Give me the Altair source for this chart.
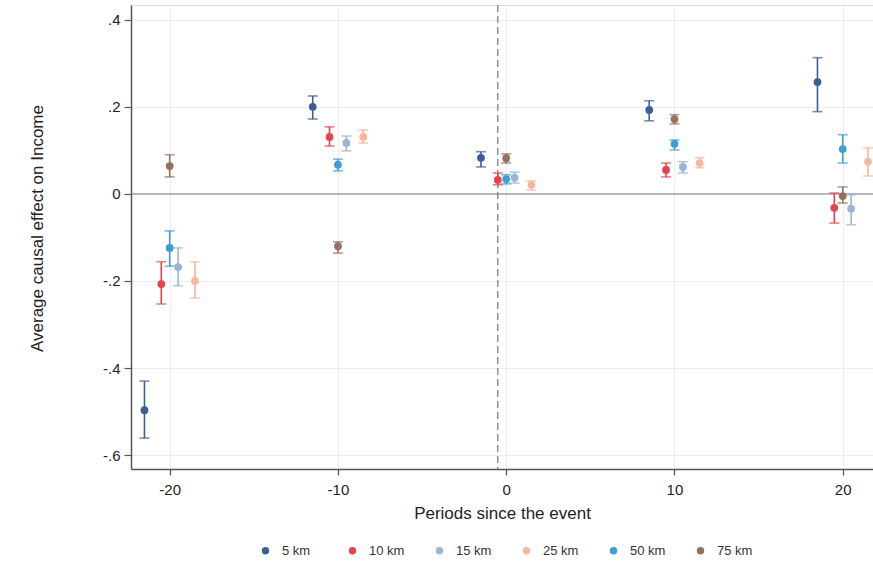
import altair as alt
import pandas as pd

periods = [-20, -10, 0, 10, 20]
series = ["5 km", "10 km", "15 km", "25 km", "50 km", "75 km"]
offsets = [-1.5, -0.5, 0.5, 1.5, 0.0, 0.0]
colors = ["#3b5f94", "#e7434e", "#9ab4d6", "#f6b6a0", "#3b9fd2", "#94705e"]

est_5 = [-0.497, 0.200, 0.083, 0.193, 0.257]
lo_5 = [-0.561, 0.172, 0.062, 0.168, 0.189]
hi_5 = [-0.430, 0.225, 0.097, 0.214, 0.313]

est_10 = [-0.207, 0.131, 0.032, 0.055, -0.032]
lo_10 = [-0.253, 0.110, 0.021, 0.039, -0.067]
hi_10 = [-0.156, 0.154, 0.048, 0.071, 0.002]

est_15 = [-0.168, 0.117, 0.037, 0.062, -0.034]
lo_15 = [-0.211, 0.099, 0.025, 0.048, -0.071]
hi_15 = [-0.124, 0.133, 0.050, 0.074, -0.002]

est_25 = [-0.200, 0.131, 0.021, 0.071, 0.074]
lo_25 = [-0.239, 0.117, 0.009, 0.060, 0.041]
hi_25 = [-0.156, 0.147, 0.030, 0.083, 0.106]

est_50 = [-0.124, 0.067, 0.034, 0.115, 0.103]
lo_50 = [-0.166, 0.053, 0.023, 0.101, 0.071]
hi_50 = [-0.085, 0.080, 0.044, 0.124, 0.136]

est_75 = [0.064, -0.120, 0.082, 0.172, -0.005]
lo_75 = [0.039, -0.136, 0.071, 0.161, -0.021]
hi_75 = [0.090, -0.110, 0.092, 0.182, 0.016]

ests = [est_5, est_10, est_15, est_25, est_50, est_75]
los = [lo_5, lo_10, lo_15, lo_25, lo_50, lo_75]
his = [hi_5, hi_10, hi_15, hi_25, hi_50, hi_75]

rows = []
for si, s in enumerate(series):
    for pi, p in enumerate(periods):
        rows.append({
            "series": s,
            "order": si,
            "x": p + offsets[si],
            "est": ests[si][pi],
            "lo": los[si][pi],
            "hi": his[si][pi],
        })
df = pd.DataFrame(rows)

FONT = "Liberation Sans"

xscale = alt.Scale(domain=[-22.3, 21.8], nice=False, zero=False)
yscale = alt.Scale(domain=[-0.632, 0.434], nice=False, zero=False)
cscale = alt.Scale(domain=series, range=colors)

xaxis = alt.Axis(
    values=periods, title="Periods since the event", grid=True,
    gridColor="#ececec", gridWidth=1, domainColor="#555555", domainWidth=1.5,
    tickColor="#555555", tickSize=6, tickWidth=1.2, labelFontSize=15,
    labelColor="#222222", labelFont=FONT, labelPadding=7,
    labelExpr="datum.value < 0 ? '-' + abs(datum.value) : '' + datum.value",
    titleFont=FONT, titleFontSize=17, titleFontWeight="normal",
    titleColor="#222222", titlePadding=8,
)
yaxis = alt.Axis(
    values=[-0.6, -0.4, -0.2, 0, 0.2, 0.4], title="Average causal effect on Income",
    grid=True, gridColor="#ececec", gridWidth=1, domainColor="#555555",
    domainWidth=1.5, tickColor="#555555", tickSize=7, tickWidth=1.2,
    labelFontSize=15, labelColor="#222222", labelFont=FONT, labelPadding=4,
    labelExpr="datum.value == 0 ? '0' : (datum.value < 0 ? '-' : '') + replace(format(abs(datum.value), '.1f'), '0.', '.')",
    titleFont=FONT, titleFontSize=17, titleFontWeight="normal",
    titleColor="#222222", titleX=-94, titleY=223, titleAngle=-90,
    titleAlign="center", titleBaseline="middle",
)

base = alt.Chart(df)

frame = base.mark_point(opacity=0).encode(
    x=alt.X("x:Q", scale=xscale, axis=xaxis),
    y=alt.Y("est:Q", scale=yscale, axis=yaxis),
)

zero_line = alt.Chart(pd.DataFrame({"v": [0.0]})).mark_rule(
    color="#7a7a7a", strokeWidth=1
).encode(y=alt.Y("v:Q", scale=yscale))

event_line = alt.Chart(pd.DataFrame({"v": [-0.5]})).mark_rule(
    color="#777777", strokeWidth=1.2, strokeDash=[7, 4]
).encode(x=alt.X("v:Q", scale=xscale))

color_enc = alt.Color(
    "series:N", scale=cscale,
    legend=alt.Legend(
        title=None, orient="none", legendX=128, legendY=539,
        direction="horizontal", gridAlign="all", columnPadding=28,
        labelOffset=10, symbolType="circle", symbolSize=55,
        symbolStrokeWidth=0, labelFont=FONT, labelFontSize=13,
        labelColor="#333333", symbolOpacity=1,
    ),
)

bars = base.mark_rule(strokeWidth=1.6).encode(
    x=alt.X("x:Q", scale=xscale),
    y=alt.Y("lo:Q", scale=yscale),
    y2="hi:Q",
    color=color_enc,
    order="order:Q",
)
cap_lo = base.mark_tick(orient="horizontal", size=10, thickness=1.6).encode(
    x=alt.X("x:Q", scale=xscale),
    y=alt.Y("lo:Q", scale=yscale),
    color=alt.Color("series:N", scale=cscale, legend=None),
)
cap_hi = base.mark_tick(orient="horizontal", size=10, thickness=1.6).encode(
    x=alt.X("x:Q", scale=xscale),
    y=alt.Y("hi:Q", scale=yscale),
    color=alt.Color("series:N", scale=cscale, legend=None),
)
dots = base.mark_circle(size=60, opacity=1).encode(
    x=alt.X("x:Q", scale=xscale),
    y=alt.Y("est:Q", scale=yscale),
    color=alt.Color("series:N", scale=cscale, legend=None),
)

chart = alt.layer(frame, zero_line, event_line, bars, cap_lo, cap_hi, dots).properties(
    width=742, height=464,
    autosize=alt.AutoSizeParams(type="none"),
    padding={"left": 131, "top": 5, "right": 0, "bottom": 98},
).configure_view(stroke=None).configure(background="white")

chart.save("out.html", embed_options={"renderer": "svg", "actions": False})
